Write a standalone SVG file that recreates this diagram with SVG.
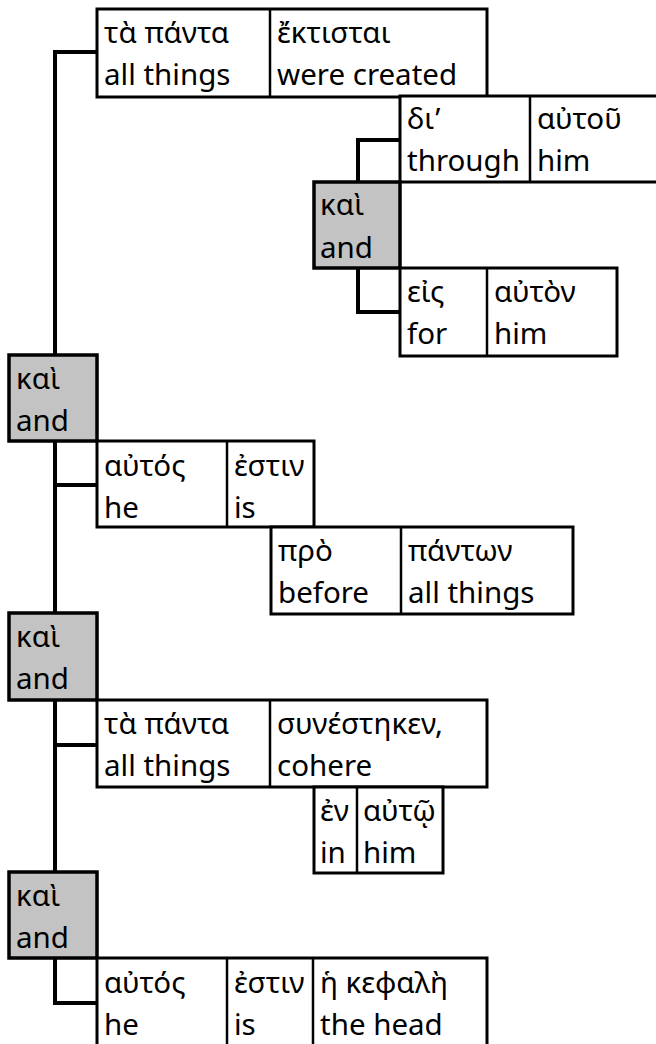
<svg xmlns="http://www.w3.org/2000/svg" width="656" height="1044" viewBox="0 0 656 1044">
<style>
.box{fill:#fff;stroke:#000;stroke-width:3}
.conj{fill:#c3c3c3;stroke:#000;stroke-width:3.5}
.div{stroke:#000;stroke-width:2.5}
.base{stroke:#000;stroke-width:3.5}
.con{fill:none;stroke:#000;stroke-width:4;stroke-linejoin:miter;stroke-linecap:square}
text{font-family:"Noto Sans","Open Sans","DejaVu Sans",sans-serif;font-size:29.5px;fill:#000}
</style>
<rect width="656" height="1044" fill="#fff"/>
<g id="connectors">
<path class="con" d="M97,52 H55 V355"/>
<path class="con" d="M55,441 V613"/>
<path class="con" d="M55,485 H97"/>
<path class="con" d="M55,700 V872"/>
<path class="con" d="M55,745 H97"/>
<path class="con" d="M55,958 V1003 H97"/>
<path class="con" d="M400,140 H358 V182"/>
<path class="con" d="M358,268 V312 H400"/>
</g>
<g id="n1">
<rect class="box" x="97" y="9" width="390" height="88"/>
<line class="div" x1="270" y1="9" x2="270" y2="97"/>
<text x="104" y="43">τὰ πάντα</text><text x="104" y="85">all things</text>
<text x="277" y="43">ἔκτισται</text><text x="277" y="85">were created</text>
</g>
<g id="n2">
<rect class="box" x="400" y="96" width="262" height="86"/>
<line class="div" x1="530" y1="96" x2="530" y2="182"/>
<text x="407" y="129">δι’</text><text x="407" y="171">through</text>
<text x="537" y="129">αὐτοῦ</text><text x="537" y="171">him</text>
</g>
<g id="n3">
<rect class="conj" x="314" y="182" width="86" height="86"/>
<text x="320" y="215">καὶ</text><text x="320" y="258">and</text>
</g>
<g id="n4">
<rect class="box" x="400" y="268" width="217" height="88"/>
<line class="div" x1="487" y1="268" x2="487" y2="356"/>
<text x="407" y="302">εἰς</text><text x="407" y="344">for</text>
<text x="494" y="302">αὐτὸν</text><text x="494" y="344">him</text>
</g>
<g id="n5">
<rect class="conj" x="9" y="355" width="88" height="86"/>
<text x="16" y="389">καὶ</text><text x="16" y="431">and</text>
</g>
<g id="n6">
<rect class="box" x="97" y="441" width="217" height="86"/>
<line class="div" x1="227" y1="441" x2="227" y2="527"/>
<text x="104" y="476">αὐτός</text><text x="104" y="518">he</text>
<text x="234" y="476">ἐστιν</text><text x="234" y="518">is</text>
</g>
<g id="n7">
<rect class="box" x="271" y="527" width="302" height="87"/>
<line class="div" x1="401" y1="527" x2="401" y2="614"/>
<text x="278" y="561">πρὸ</text><text x="278" y="603">before</text>
<text x="408" y="561">πάντων</text><text x="408" y="603">all things</text>
</g>
<g id="n8">
<rect class="conj" x="9" y="613" width="88" height="87"/>
<text x="16" y="647">καὶ</text><text x="16" y="689">and</text>
</g>
<g id="n9">
<rect class="box" x="97" y="700" width="390" height="87"/>
<line class="div" x1="270" y1="700" x2="270" y2="787"/>
<text x="104" y="734">τὰ πάντα</text><text x="104" y="776">all things</text>
<text x="277" y="734">συνέστηκεν,</text><text x="277" y="776">cohere</text>
</g>
<g id="n10">
<rect class="box" x="314" y="787" width="129" height="86"/>
<line class="div" x1="357" y1="787" x2="357" y2="873"/>
<text x="320" y="821">ἐν</text><text x="320" y="863">in</text>
<text x="363" y="821">αὐτῷ</text><text x="363" y="863">him</text>
</g>
<g id="n11">
<rect class="conj" x="9" y="872" width="88" height="86"/>
<text x="16" y="906">καὶ</text><text x="16" y="948">and</text>
</g>
<g id="n12">
<rect class="box" x="97" y="958" width="390" height="95"/>
<line class="div" x1="227" y1="958" x2="227" y2="1050"/>
<line class="div" x1="313" y1="958" x2="313" y2="1050"/>
<text x="104" y="993">αὐτός</text><text x="104" y="1035">he</text>
<text x="234" y="993">ἐστιν</text><text x="234" y="1035">is</text>
<text x="320" y="993">ἡ κεφαλὴ</text><text x="320" y="1035">the head</text>
</g>
</svg>
